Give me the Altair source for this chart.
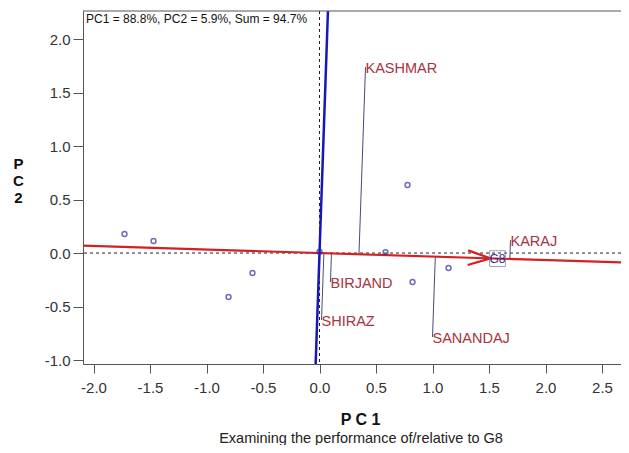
import altair as alt
import numpy as np
import pandas as pd

# ---------------- data ----------------
# genotype scores (shown as small open circles)
gen_pc1 = [-1.726, -1.469, -0.805, -0.593, 0.000, 0.584, 0.779, 0.823, 1.142]
gen_pc2 = [0.178, 0.112, -0.411, -0.187, 0.012, 0.009, 0.636, -0.271, -0.140]

# focal genotype
focal_name = "G8"
focal_pc1 = 1.575
focal_pc2 = -0.052

# environments
env_names = ["KASHMAR", "KARAJ", "BIRJAND", "SHIRAZ", "SANANDAJ"]
env_pc1 = [0.407, 1.690, 0.097, 0.018, 1.000]
env_pc2 = [1.738, 0.121, -0.271, -0.626, -0.785]

# axes
x_domain = [-2.093, 2.668]
y_domain = [-1.037, 2.262]
x_ticks = [-2.0, -1.5, -1.0, -0.5, 0.0, 0.5, 1.0, 1.5, 2.0, 2.5]
y_ticks = [-1.0, -0.5, 0.0, 0.5, 1.0, 1.5, 2.0]

info_text = "PC1 = 88.8%, PC2 = 5.9%, Sum = 94.7%"
caption = "Examining the performance of/relative to G8"

# ---------------- derived geometry ----------------
d = np.array([focal_pc1, focal_pc2])
d = d / np.linalg.norm(d)          # ATC abscissa direction
p = np.array([-d[1], d[0]])        # ATC ordinate direction

ext = 4.0
abscissa = pd.DataFrame({"x": [-ext * d[0], ext * d[0]], "y": [-ext * d[1], ext * d[1]], "o": [0, 1]})
ordinate = pd.DataFrame({"x": [-ext * p[0], ext * p[0]], "y": [-ext * p[1], ext * p[1]], "o": [0, 1]})

proj_rows = []
for n, ex, ey in zip(env_names, env_pc1, env_pc2):
    t = ex * d[0] + ey * d[1]
    proj_rows.append({"env": n, "x": t * d[0], "y": t * d[1], "o": 0})
    proj_rows.append({"env": n, "x": ex, "y": ey, "o": 1})
proj = pd.DataFrame(proj_rows)

focal_vec = np.array([focal_pc1, focal_pc2])
tip = focal_vec - 0.062 * d
back, half = 0.2, 0.068
w1 = tip - back * d + half * p
w2 = tip - back * d - half * p
arrow = pd.DataFrame({"x": [w1[0], tip[0], w2[0]], "y": [w1[1], tip[1], w2[1]], "o": [0, 1, 2]})

gens = pd.DataFrame({"x": gen_pc1, "y": gen_pc2})
envs = pd.DataFrame({"env": env_names, "x": env_pc1, "y": env_pc2})
focal = pd.DataFrame({"name": [focal_name], "x": [focal_pc1], "y": [focal_pc2]})
zero = pd.DataFrame({"v": [0.0]})

# ---------------- styling ----------------
W, H = 538, 353
FONT = "Liberation Sans"
RED = "#d42020"
BLUE = "#1818b8"

xs = alt.Scale(domain=x_domain, nice=False, zero=False)
ys = alt.Scale(domain=y_domain, nice=False, zero=False)
lab = "(datum.value < 0 ? '-' : '') + format(abs(datum.value), '.1f')"
x_axis = alt.Axis(values=x_ticks, labelExpr=lab, title="P C 1", grid=False,
                  tickSize=9, labelPadding=7, labelFontSize=15, labelFont=FONT,
                  labelColor="#333333", domainColor="#555555", tickColor="#555555",
                  titleFont=FONT, titleFontSize=16, titleFontWeight="bold",
                  titleX=277, titleY=60, titleBaseline="alphabetic", titleColor="#111111")
y_axis = alt.Axis(values=y_ticks, labelExpr=lab, title=["P", "C", "2"], grid=False,
                  tickSize=10, labelPadding=3, labelFontSize=15, labelFont=FONT,
                  labelColor="#333333", domainColor="#555555", tickColor="#555555",
                  titleFont=FONT, titleFontSize=15, titleFontWeight="bold",
                  titleAngle=0, titleX=-65, titleY=145, titleBaseline="top",
                  titleAlign="center", titleLineHeight=17, titleColor="#111111")


def X(f="x"):
    return alt.X(f"{f}:Q", scale=xs, axis=x_axis)


def Y(f="y"):
    return alt.Y(f"{f}:Q", scale=ys, axis=y_axis)


vdash = alt.Chart(zero).mark_rule(color="#222222", strokeDash=[3, 3], strokeWidth=1).encode(x=alt.X("v:Q", scale=xs, axis=x_axis))
hdash = alt.Chart(zero).mark_rule(color="#222222", strokeDash=[3, 3], strokeWidth=1).encode(y=alt.Y("v:Q", scale=ys, axis=y_axis))

proj_lines = alt.Chart(proj).mark_line(color="#4a4a7a", strokeWidth=1, clip=True).encode(
    x=X(), y=Y(), detail="env:N", order="o:Q")

abs_line = alt.Chart(abscissa).mark_line(color=RED, strokeWidth=2.2, clip=True).encode(x=X(), y=Y(), order="o:Q")
ord_line = alt.Chart(ordinate).mark_line(color=BLUE, strokeWidth=2.5, clip=True).encode(x=X(), y=Y(), order="o:Q")
arrow_line = alt.Chart(arrow).mark_line(color=RED, strokeWidth=2.2).encode(x=X(), y=Y(), order="o:Q")

gen_pts = alt.Chart(gens).mark_point(shape="circle", size=24, filled=False, strokeWidth=1.5,
                                     color="#3030a0").encode(x=X(), y=Y())

focal_box = alt.Chart(focal).mark_point(shape="square", size=250, filled=False, strokeWidth=1,
                                        color="#7a7a9a").encode(x=X(), y=Y())
focal_txt = alt.Chart(focal).mark_text(font=FONT, fontSize=12, color="#2a2a8a").encode(
    x=X(), y=Y(), text="name:N")

env_txt = alt.Chart(envs).mark_text(font=FONT, fontSize=14.5, color="#a8323e", align="left",
                                    baseline="middle", dx=0, dy=2).encode(x=X(), y=Y(), text="env:N")

top_border = alt.Chart(zero).mark_rule(color="#555555", strokeWidth=1).encode(
    x=alt.value(0), x2=alt.value(W), y=alt.value(0))

info = alt.Chart(zero).mark_text(text=info_text, font=FONT, fontSize=12, color="#111111",
                                 align="left", baseline="middle").encode(x=alt.value(3), y=alt.value(8))
cap = alt.Chart(zero).mark_text(text=caption, font=FONT, fontSize=14.5, color="#222222",
                                align="center", baseline="alphabetic").encode(x=alt.value(278), y=alt.value(432))

chart = alt.layer(
    vdash, hdash, proj_lines, abs_line, ord_line, arrow_line, gen_pts, focal_box, focal_txt,
    env_txt, top_border, info, cap
).properties(
    width=W, height=H,
    padding={"left": 75, "top": 3, "right": 0, "bottom": 81},
    autosize=alt.AutoSizeParams(type="none"),
).configure_view(stroke=None)

chart.save("out.html", embed_options={"renderer": "svg", "actions": False})
